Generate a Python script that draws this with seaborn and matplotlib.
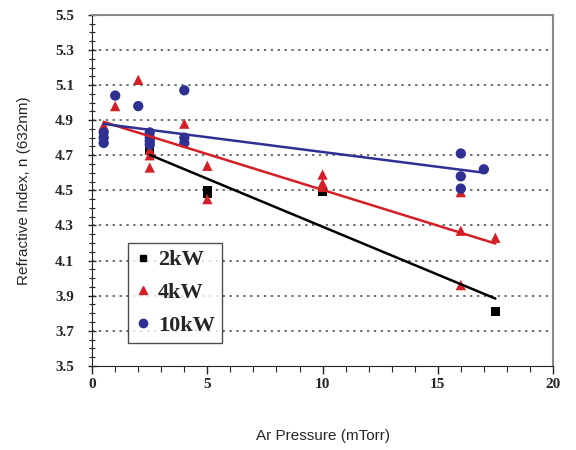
import numpy as np
import pandas as pd
import matplotlib
matplotlib.use("Agg")
import matplotlib.pyplot as plt
import seaborn as sns
from matplotlib.ticker import MultipleLocator, FixedLocator, FormatStrFormatter

# 2kW
x_2kw = [2.5, 5, 5, 10, 17.5]
n_2kw = [4.73, 4.50, 4.48, 4.49, 3.81]

# 4kW
x_4kw = [0.5, 1, 2, 2.5, 2.5, 2.5, 4, 4, 5, 5, 10, 10, 10, 16, 16, 16, 17.5]
n_4kw = [4.87, 4.98, 5.13, 4.73, 4.70, 4.63, 4.88, 4.79, 4.64, 4.45, 4.59, 4.54, 4.52, 4.49, 4.27, 3.96, 4.23]

# 10kW
x_10kw = [0.5, 0.5, 0.5, 1, 2, 2.5, 2.5, 2.5, 2.5, 4, 4, 4, 16, 16, 16, 17]
n_10kw = [4.83, 4.80, 4.77, 5.04, 4.98, 4.83, 4.80, 4.78, 4.76, 5.07, 4.80, 4.77, 4.71, 4.58, 4.51, 4.62]

series = ["2kW", "4kW", "10kW"]
colors = {"2kW": "#000000", "4kW": "#d41f26", "10kW": "#2e3192"}
markers = {"2kW": "s", "4kW": "^", "10kW": "o"}
sizes = {"2kW": 38, "4kW": 55, "10kW": 55}
y_ticks = [3.5, 3.7, 3.9, 4.1, 4.3, 4.5, 4.7, 4.9, 5.1, 5.3, 5.5]

df = pd.concat([
    pd.DataFrame({"p": x_2kw, "n": n_2kw, "power": "2kW"}),
    pd.DataFrame({"p": x_4kw, "n": n_4kw, "power": "4kW"}),
    pd.DataFrame({"p": x_10kw, "n": n_10kw, "power": "10kW"}),
])

sns.set_style("ticks")
fig = plt.figure(figsize=(5.76, 4.5), dpi=100)
ax = fig.add_axes([0.16, 0.187, 0.80, 0.78])

handles = []
for s in series:
    d = df[df.power == s]
    sns.scatterplot(data=d, x="p", y="n", color=colors[s], marker=markers[s],
                    s=sizes[s], edgecolor="none", ax=ax, zorder=3)
    sns.regplot(data=d, x="p", y="n", scatter=False, ci=None, truncate=True,
                color=colors[s], line_kws={"lw": 1.8, "zorder": 4}, ax=ax)
    handles.append(plt.Line2D([], [], ls="none", marker=markers[s], color=colors[s],
                              markersize=6 if s != "2kW" else 5, label=s))

ax.set_xlim(0, 20)
ax.set_ylim(3.5, 5.5)
ax.xaxis.set_major_locator(MultipleLocator(5))
ax.xaxis.set_minor_locator(MultipleLocator(1))
ax.yaxis.set_major_locator(FixedLocator(y_ticks))
ax.yaxis.set_minor_locator(MultipleLocator(0.05))
ax.yaxis.set_major_formatter(FormatStrFormatter("%.1f"))

for y in y_ticks[1:-1]:
    ax.axhline(y, color="#444444", ls=(0, (1.5, 3)), lw=1.1, zorder=1)

for lab in ax.get_xticklabels() + ax.get_yticklabels():
    lab.set_family("Liberation Serif")
    lab.set_fontweight("bold")
    lab.set_fontsize(11)
ax.tick_params(axis="x", which="both", direction="out", pad=3)
ax.tick_params(axis="y", which="both", direction="inout", pad=10)
ax.tick_params(which="major", length=6, width=1)
ax.tick_params(which="minor", length=4, width=0.8)

for side in ["left", "bottom"]:
    ax.spines[side].set_color("#222222")
for side in ["top", "right"]:
    ax.spines[side].set_color("#888888")
    ax.spines[side].set_linewidth(1.5)

ax.set_xlabel("Ar Pressure (mTorr)", family="Liberation Sans", fontsize=11, labelpad=27)
ax.set_ylabel("Refractive Index, n (632nm)", family="Liberation Sans", fontsize=11, labelpad=17)

leg = ax.legend(handles=handles, loc="lower left", bbox_to_anchor=(0.078, 0.066),
                borderaxespad=0, frameon=True, fancybox=False, edgecolor="#222222",
                handletextpad=0.3, labelspacing=0.55, borderpad=0.3, handlelength=0.75,
                prop={"family": "Liberation Serif", "weight": "bold", "size": 16})
leg.get_frame().set_linewidth(1.0)

fig.savefig("out.png", dpi=100)
